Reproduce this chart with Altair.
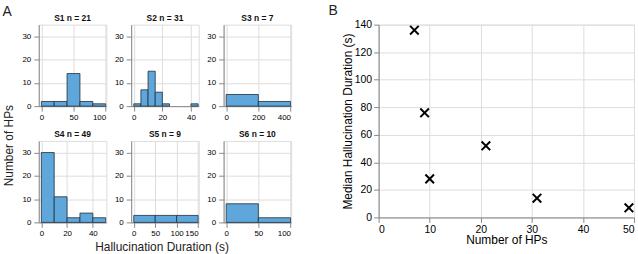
import altair as alt
import pandas as pd

# Histogram bins per subject (left edges + final right edge) and counts per bin
subjects = ["S1", "S2", "S3", "S4", "S5", "S6"]
s1_edges = [0, 20, 40, 60, 80, 100]
s1_counts = [2, 2, 14, 2, 1]
s2_edges = [0, 5, 10, 15, 20, 25, 30, 35, 40, 45]
s2_counts = [1, 7, 15, 6, 1, 0, 0, 0, 1]
s3_edges = [0, 200, 400]
s3_counts = [5, 2]
s4_edges = [0, 10, 20, 30, 40, 50]
s4_counts = [30, 11, 2, 4, 2]
s5_edges = [0, 50, 100, 150]
s5_counts = [3, 3, 3]
s6_edges = [0, 50, 100]
s6_counts = [8, 2]

s1_ticks = [0, 50, 100]
s2_ticks = [0, 20, 40]
s3_ticks = [0, 200, 400]
s4_ticks = [0, 20, 40]
s5_ticks = [0, 50, 100, 150]
s6_ticks = [0, 50, 100]
count_ticks = [0, 10, 20, 30]

# Panel B: number of HPs vs median hallucination duration
n_hps = [7, 9, 10, 21, 31, 49]
median_duration = [136, 76, 28, 52, 14, 7]

edges = dict(S1=s1_edges, S2=s2_edges, S3=s3_edges, S4=s4_edges, S5=s5_edges, S6=s6_edges)
counts = dict(S1=s1_counts, S2=s2_counts, S3=s3_counts, S4=s4_counts, S5=s5_counts, S6=s6_counts)
ticks = dict(S1=s1_ticks, S2=s2_ticks, S3=s3_ticks, S4=s4_ticks, S5=s5_ticks, S6=s6_ticks)

FONT = "Liberation Sans"
BAR_FILL = "#5fa7da"
BAR_EDGE = "#1f2d3a"
AXIS_GRAY = "#a8a8a8"
LABEL_COLOR = "#333333"
TITLE_COLOR = "#222222"


def histogram(name):
    e = edges[name]
    c = counts[name]
    df = pd.DataFrame({"start": e[:-1], "end": e[1:], "count": c, "base": 0})
    df = df[df["count"] > 0]
    span = e[-1] - e[0]
    dom = [e[0] - 0.04 * span, e[-1] + 0.01 * span]
    return (
        alt.Chart(
            df,
            title=alt.TitleParams(
                f"{name} n = {sum(c)}", fontSize=8.5, fontWeight="bold",
                font=FONT, color="#111111", offset=2,
            ),
        )
        .mark_rect(fill=BAR_FILL, stroke=BAR_EDGE, strokeWidth=0.8)
        .encode(
            x=alt.X("start:Q", scale=alt.Scale(domain=dom, nice=False, zero=False),
                    axis=alt.Axis(values=ticks[name], title=None, labelFontSize=8,
                                  labelPadding=2)),
            x2="end:Q",
            y=alt.Y("count:Q", scale=alt.Scale(domain=[0, 35], nice=False),
                    axis=alt.Axis(values=count_ticks, title=None, labelFontSize=8,
                                  labelPadding=3)),
            y2="base:Q",
        )
        .properties(width=68, height=82)
    )


grid = alt.concat(
    *[histogram(s) for s in subjects],
    columns=3,
    spacing={"row": 35, "column": 25},
    bounds="flush",
).properties(
    title=alt.TitleParams("Number of HPs", orient="left", anchor="middle", fontSize=12,
                          fontWeight="normal", font=FONT, color=TITLE_COLOR, offset=6,
                          dx=-20)
)

left = alt.vconcat(grid).properties(
    title=alt.TitleParams("Hallucination Duration (s)", orient="bottom", anchor="middle",
                          fontSize=12, fontWeight="normal", font=FONT, color=TITLE_COLOR,
                          offset=4, dx=15)
)

left_panel = alt.vconcat(left).properties(
    title=alt.TitleParams("A", anchor="start", fontSize=14, fontWeight="normal",
                          font=FONT, color=TITLE_COLOR, offset=-17, dy=-12)
)

scatter_df = pd.DataFrame({"n": n_hps, "median": median_duration})
scatter = (
    alt.Chart(
        scatter_df,
        title=alt.TitleParams("B", anchor="start", fontSize=14, fontWeight="normal",
                              font=FONT, color=TITLE_COLOR, offset=0, dx=-13, dy=-2),
    )
    .mark_point(shape="M-1,-1L1,1M-1,1L1,-1", size=75, stroke="black",
                strokeWidth=2, filled=False, opacity=1)
    .encode(
        x=alt.X("n:Q", scale=alt.Scale(domain=[0, 50], nice=False),
                axis=alt.Axis(values=[0, 10, 20, 30, 40, 50], title="Number of HPs",
                              labelFontSize=10.5, titleFontSize=12, labelPadding=2,
                              titlePadding=0, titleFontWeight="normal")),
        y=alt.Y("median:Q", scale=alt.Scale(domain=[0, 140], nice=False),
                axis=alt.Axis(values=[0, 20, 40, 60, 80, 100, 120, 140],
                              title="Median Hallucination Duration (s)",
                              labelFontSize=10.5, titleFontSize=12, labelPadding=2,
                              titlePadding=0, titleFontWeight="normal")),
    )
    .properties(width=257, height=194)
)

chart = (
    alt.hconcat(left_panel, scatter, spacing=35)
    .properties(padding={"left": 2, "top": 2, "right": 0, "bottom": 0})
    .configure_view(stroke=None)
    .configure_axis(
        grid=False, ticks=False, domainColor=AXIS_GRAY, domainWidth=1.2,
        labelColor=LABEL_COLOR, titleColor=TITLE_COLOR, labelFont=FONT, titleFont=FONT,
        titleFontWeight="normal", labelFlush=False,
    )
    .configure(background="white")
)

chart.save("out.html", embed_options={"renderer": "svg", "actions": False})
